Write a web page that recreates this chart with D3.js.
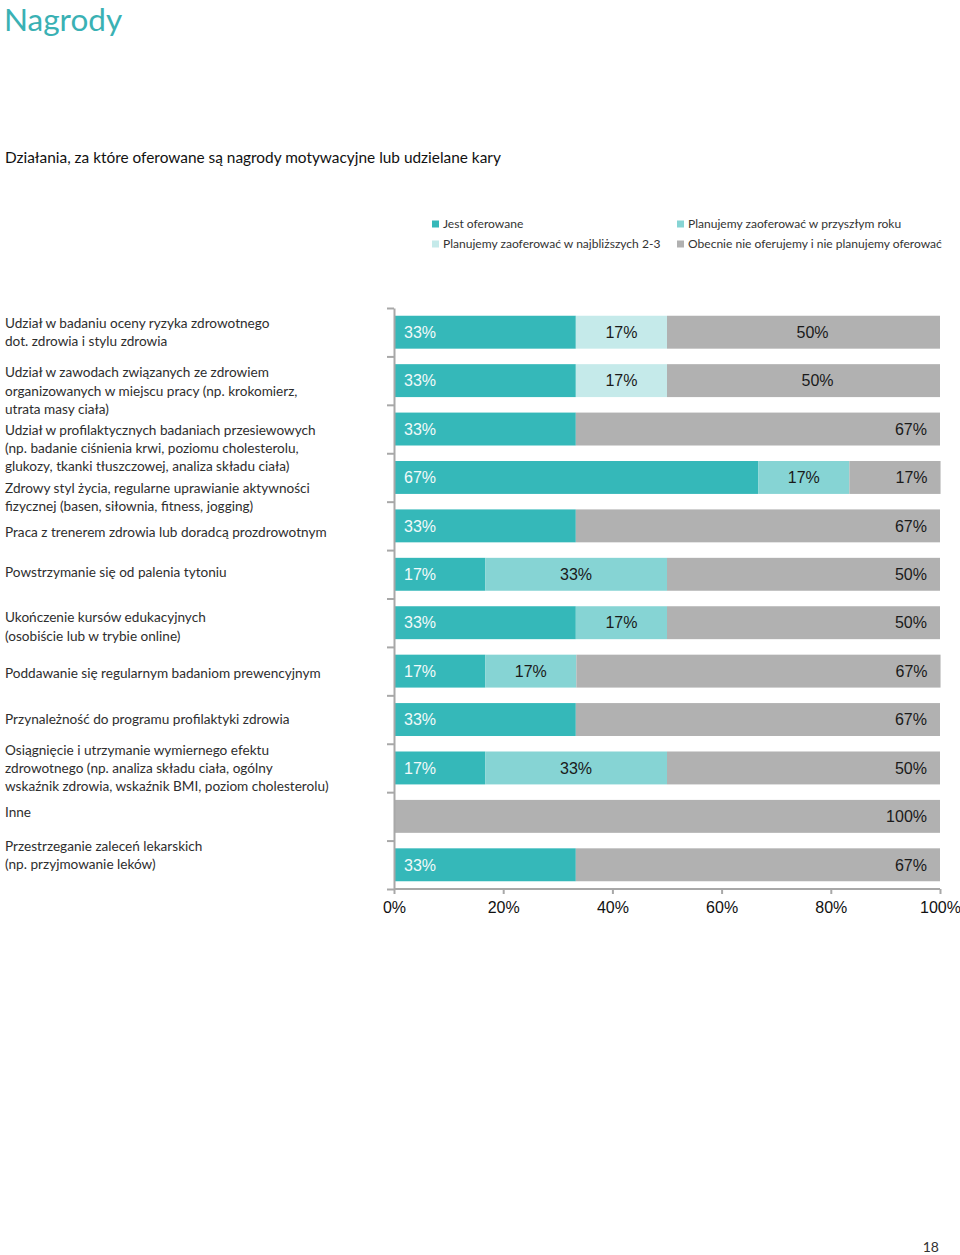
<!DOCTYPE html>
<html><head><meta charset="utf-8">
<script src="https://cdn.jsdelivr.net/npm/d3@7"></script>
<style>body{margin:0;background:#fff}svg{display:block}</style>
</head><body><svg id="c" width="960" height="1255"></svg>
<script>
// ---------- DATA ----------
const categories = [
  "Udział w badaniu oceny ryzyka zdrowotnego\ndot. zdrowia i stylu zdrowia",
  "Udział w zawodach związanych ze zdrowiem\norganizowanych w miejscu pracy (np. krokomierz,\nutrata masy ciała)",
  "Udział w profilaktycznych badaniach przesiewowych\n(np. badanie ciśnienia krwi, poziomu cholesterolu,\nglukozy, tkanki tłuszczowej, analiza składu ciała)",
  "Zdrowy styl życia, regularne uprawianie aktywności\nfizycznej (basen, siłownia, fitness, jogging)",
  "Praca z trenerem zdrowia lub doradcą prozdrowotnym",
  "Powstrzymanie się od palenia tytoniu",
  "Ukończenie kursów edukacyjnych\n(osobiście lub w trybie online)",
  "Poddawanie się regularnym badaniom prewencyjnym",
  "Przynależność do programu profilaktyki zdrowia",
  "Osiągnięcie i utrzymanie wymiernego efektu\nzdrowotnego (np. analiza składu ciała, ogólny\nwskaźnik zdrowia, wskaźnik BMI, poziom cholesterolu)",
  "Inne",
  "Przestrzeganie zaleceń lekarskich\n(np. przyjmowanie leków)"
];
const seriesNames = [
  "Jest oferowane",
  "Planujemy zaoferować w przyszłym roku",
  "Planujemy zaoferować w najbliższych 2-3",
  "Obecnie nie oferujemy i nie planujemy oferować"
];
const jestOferowane   = [33.3, 33.3, 33.3, 66.7, 33.3, 16.7, 33.3, 16.7, 33.3, 16.7, 0, 33.3];
const przyszlyRok     = [0, 0, 0, 16.7, 0, 33.3, 16.7, 16.7, 0, 33.3, 0, 0];
const najblizsze23    = [16.7, 16.7, 0, 0, 0, 0, 0, 0, 0, 0, 0, 0];
const nieOferujemy    = [50, 50, 66.7, 16.7, 66.7, 50, 50, 66.7, 66.7, 50, 100, 66.7];
const xTicks = [0, 20, 40, 60, 80, 100];

// ---------- LAYOUT / STYLE ----------
const colors = ["#35b8b9", "#86d4d4", "#c5eaea", "#b1b1b1"];
const labelFill = ["#f2fafa", "#1a1a1a", "#1a1a1a", "#1a1a1a"];
const centeredGrayRows = [0, 1];
const centeredGrayShift = [9, 14];
const catLabelShift = [-9, -8, 1, 10.5, 6, -2, -5, 2, 0, -18, -4, -19];
const lineH = 18.3;
const textFont = "Lato, 'Open Sans', sans-serif";
const numFont = "'Liberation Sans', Arial, sans-serif";

const svg = d3.select("#c");

// Title
svg.append("text").attr("x", 4).attr("y", 31)
  .attr("font-family", textFont).attr("font-size", 31.5).attr("fill", "#3ab1b4")
  .text("Nagrody");

svg.append("text").attr("x", 5).attr("y", 163)
  .attr("font-family", textFont).attr("font-size", 15.4).attr("fill", "#111")
  .text("Działania, za które oferowane są nagrody motywacyjne lub udzielane kary");

// Legend
const legendPos = [[432, 224], [677, 224], [432, 244], [677, 244]];
const lg = svg.append("g");
seriesNames.forEach((n, i) => {
  const [lx, ly] = legendPos[i];
  lg.append("rect").attr("x", lx).attr("y", ly - 3.5).attr("width", 7).attr("height", 7).attr("fill", colors[i]);
  lg.append("text").attr("x", lx + 11).attr("y", ly).attr("dy", "0.35em")
    .attr("font-family", textFont).attr("font-size", 12.05).attr("fill", "#333").text(n);
});

// Scales
const x = d3.scaleLinear().domain([0, 100]).range([394, 940]);
const y = d3.scaleBand().domain(d3.range(categories.length)).range([308, 889])
  .paddingInner(0.32).paddingOuter(0.16);
const yIdx = d3.scaleLinear().domain([0, categories.length]).range([308, 889]);

// Stack
const rows = categories.map((c, i) => ({
  i, s0: jestOferowane[i], s1: przyszlyRok[i], s2: najblizsze23[i], s3: nieOferujemy[i]
}));
const stack = d3.stack().keys(["s0", "s1", "s2", "s3"]);
const layers = stack(rows);

const barsG = svg.append("g");
layers.forEach((layer, k) => {
  barsG.selectAll(null).data(layer.filter(d => d[1] - d[0] > 0)).enter()
    .append("rect")
    .attr("x", d => x(d[0]) + (d[0] === 0 ? 1 : 0))
    .attr("width", d => x(d[1]) - x(d[0]) - (d[0] === 0 ? 1 : 0))
    .attr("y", d => y(d.data.i))
    .attr("height", y.bandwidth())
    .attr("fill", colors[k]);
});

// Value labels
layers.forEach((layer, k) => {
  barsG.selectAll(null).data(layer.filter(d => d[1] - d[0] > 0)).enter()
    .append("text")
    .attr("font-family", numFont).attr("font-size", 16)
    .attr("fill", labelFill[k])
    .attr("y", d => y(d.data.i) + y.bandwidth() / 2)
    .attr("dy", "0.36em")
    .attr("x", d => {
      if (k === 0) return x(d[0]) + 10;
      const ci = centeredGrayRows.indexOf(d.data.i);
      if (k === 3 && ci < 0) return x(d[1]) - 13;
      if (k === 3) return (x(d[0]) + x(d[1])) / 2 + centeredGrayShift[ci];
      return (x(d[0]) + x(d[1])) / 2;
    })
    .attr("text-anchor", d => {
      if (k === 0) return "start";
      if (k === 3 && !centeredGrayRows.includes(d.data.i)) return "end";
      return "middle";
    })
    .text(d => Math.round(d[1] - d[0]) + "%");
});

// Left axis
const leftAxis = svg.append("g").attr("transform", "translate(394,0)")
  .call(d3.axisLeft(yIdx).tickValues(d3.range(categories.length + 1)).tickSize(7).tickSizeOuter(0).tickFormat(""));
leftAxis.selectAll("path,line").attr("stroke", "#a8a8a8").attr("stroke-width", 2);

// Bottom axis
const bottomAxis = svg.append("g").attr("transform", "translate(0,889)")
  .call(d3.axisBottom(x).tickValues(xTicks).tickSize(5).tickSizeOuter(0).tickFormat(d => d + "%"));
bottomAxis.selectAll("path,line").attr("stroke", "#a8a8a8").attr("stroke-width", 2);
bottomAxis.selectAll("text").attr("font-family", numFont).attr("font-size", 16)
  .attr("fill", "#111").attr("y", 18).attr("dy", "0.36em");
bottomAxis.select(".domain").attr("d", "M394,0H940");

// Category labels
const catG = svg.append("g");
categories.forEach((c, i) => {
  const lines = c.split("\n");
  const cy = y(i) + y.bandwidth() / 2 + catLabelShift[i];
  const t = catG.append("text").attr("font-family", textFont).attr("font-size", 13.6).attr("fill", "#2e2e2e");
  lines.forEach((ln, j) => {
    t.append("tspan").attr("x", 5).attr("y", cy + j * lineH).attr("dy", "0.35em").text(ln);
  });
});

// Page number
svg.append("text").attr("x", 939).attr("y", 1252).attr("text-anchor", "end")
  .attr("font-family", textFont).attr("font-size", 14).attr("fill", "#333").text("18");
</script>
</body></html>
